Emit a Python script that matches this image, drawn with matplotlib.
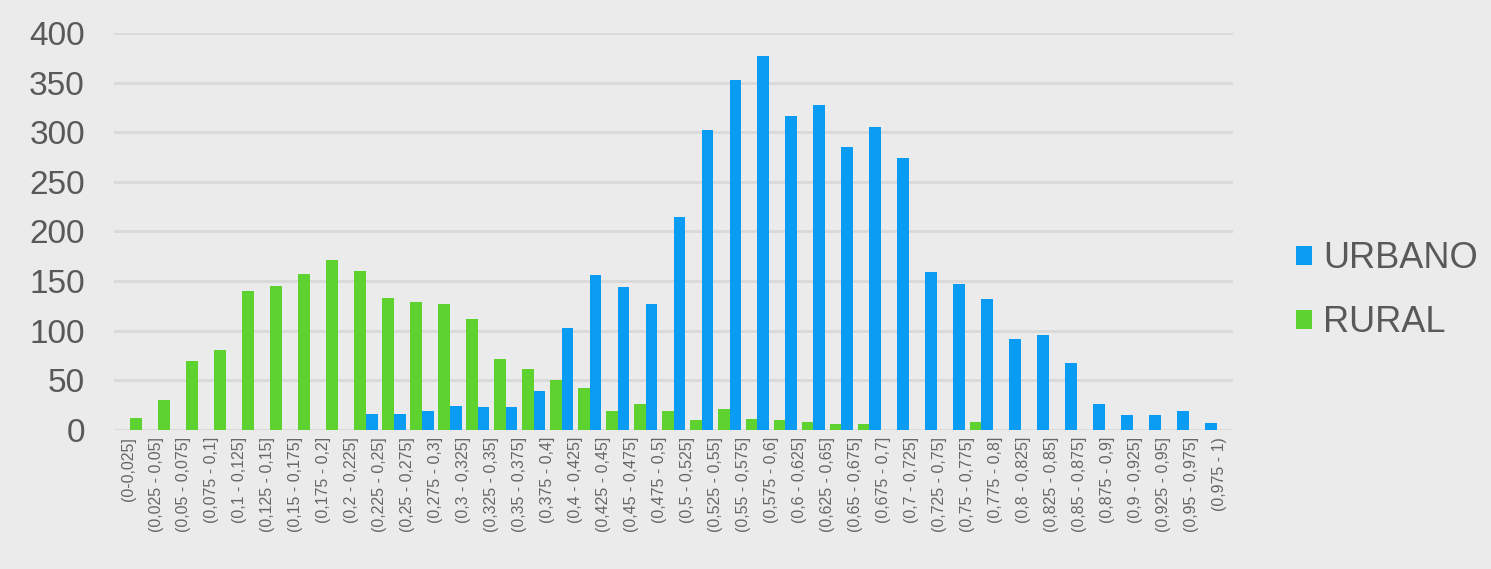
import numpy as np
import matplotlib
matplotlib.use("Agg")
import matplotlib.pyplot as plt

plt.rcParams['font.family'] = ['Liberation Sans', 'DejaVu Sans']

categories = [
    "(0-0,025]", "(0,025 - 0,05]", "(0,05 - 0,075]", "(0,075 - 0,1]",
    "(0,1 - 0,125]", "(0,125 - 0,15]", "(0,15 - 0,175]", "(0,175 - 0,2]",
    "(0,2 - 0,225]", "(0,225 - 0,25]", "(0,25 - 0,275]", "(0,275 - 0,3]",
    "(0,3 - 0,325]", "(0,325 - 0,35]", "(0,35 - 0,375]", "(0,375 - 0,4]",
    "(0,4 - 0,425]", "(0,425 - 0,45]", "(0,45 - 0,475]", "(0,475 - 0,5]",
    "(0,5 - 0,525]", "(0,525 - 0,55]", "(0,55 - 0,575]", "(0,575 - 0,6]",
    "(0,6 - 0,625]", "(0,625 - 0,65]", "(0,65 - 0,675]", "(0,675 - 0,7]",
    "(0,7 - 0,725]", "(0,725 - 0,75]", "(0,75 - 0,775]", "(0,775 - 0,8]",
    "(0,8 - 0,825]", "(0,825 - 0,85]", "(0,85 - 0,875]", "(0,875 - 0,9]",
    "(0,9 - 0,925]", "(0,925 - 0,95]", "(0,95 - 0,975]", "(0,975 - 1)",
]

urbano = [0, 0, 0, 0, 0, 0, 0, 0, 0, 16,
          16, 19, 24, 23, 23, 39, 103, 156, 144, 127,
          215, 302, 353, 377, 316, 327, 285, 305, 274, 159,
          147, 132, 92, 96, 68, 26, 15, 15, 19, 7]

rural = [12, 30, 70, 81, 140, 145, 157, 171, 160, 133,
         129, 127, 112, 72, 61, 50, 42, 19, 26, 19,
         10, 21, 11, 10, 8, 6, 6, 0, 0, 0,
         8, 0, 0, 0, 0, 0, 0, 0, 0, 0]

yticks = [0, 50, 100, 150, 200, 250, 300, 350, 400]

bg = '#EBEBEB'
blue = '#0A9CF2'
green = '#5ED22E'
text_col = '#595959'

fig = plt.figure(figsize=(14.91, 5.69), dpi=100, facecolor=bg)
ax = fig.add_axes([0.0765, 0.2443, 0.7505, 0.6977], facecolor=bg)

x = np.arange(len(categories))
w = 0.42
ax.bar(x - 0.29, urbano, width=w, color=blue, label='URBANO', zorder=3)
ax.bar(x + 0.29, rural, width=w, color=green, label='RURAL', zorder=3)

ax.set_xlim(-0.5, len(categories) - 0.5)
ax.set_ylim(0, 400)
ax.set_yticks(yticks)
ax.grid(axis='y', color='#D9D9D9', linewidth=2, zorder=0)
for s in ax.spines.values():
    s.set_visible(False)

ax.set_xticks(x)
ax.set_xticklabels(categories, rotation=90, fontsize=11.5, color='#666666')
ax.tick_params(axis='x', length=0, pad=5)
ax.tick_params(axis='y', length=0, pad=21, labelsize=24, labelcolor=text_col)

fig.legend(loc='center left', bbox_to_anchor=(0.857, 0.489), frameon=False,
           fontsize=26, handlelength=0.45, handleheight=0.45,
           handletextpad=0.3, labelspacing=0.8, borderpad=0,
           labelcolor=text_col)

fig.savefig('out.png', dpi=100, facecolor=bg)
